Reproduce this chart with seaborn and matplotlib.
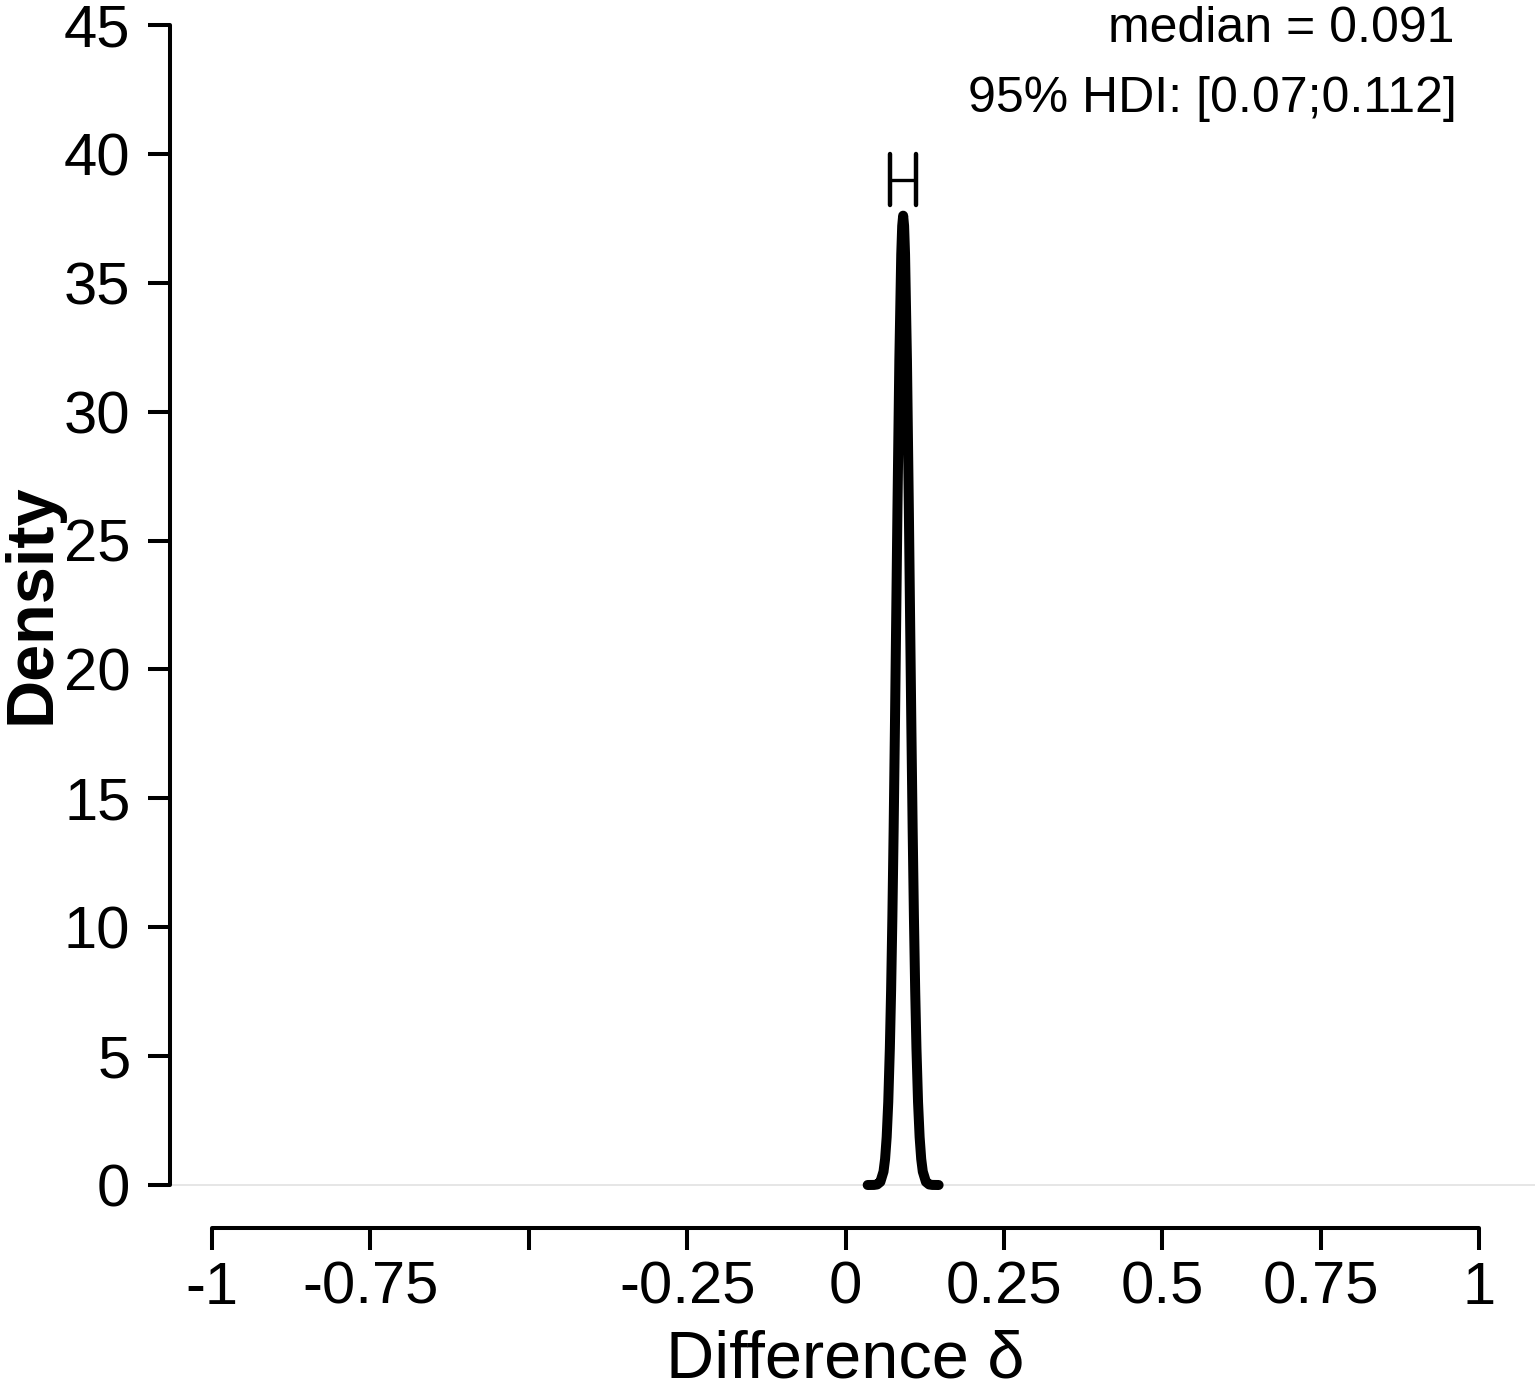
import numpy as np
import pandas as pd
import matplotlib
matplotlib.use("Agg")
import matplotlib.pyplot as plt
import seaborn as sns

# posterior density of the difference
delta_x = [0.035, 0.045, 0.050, 0.055, 0.060, 0.0625, 0.065, 0.0675, 0.070, 0.072,
           0.074, 0.076, 0.078, 0.080, 0.082, 0.085, 0.088, 0.0895, 0.091, 0.0925,
           0.094, 0.097, 0.100, 0.102, 0.104, 0.106, 0.108, 0.110, 0.112, 0.1145,
           0.117, 0.1195, 0.122, 0.127, 0.132, 0.137, 0.147]
density_y = [0.0, 0.003, 0.021, 0.12, 0.52, 1.01, 1.86, 3.22, 5.30, 7.55,
             10.4, 13.8, 17.7, 21.9, 26.2, 32.0, 36.1, 37.2, 37.6, 37.2,
             36.1, 32.0, 26.2, 21.9, 17.7, 13.8, 10.4, 7.55, 5.30, 3.22,
             1.86, 1.01, 0.52, 0.12, 0.021, 0.003, 0.0]

median_val = 0.091
hdi_low, hdi_high = 0.07, 0.112
hdi_bar_y = 39

x_ticks = [-1, -0.75, -0.5, -0.25, 0, 0.25, 0.5, 0.75, 1]
x_tick_labels = ["-1", "-0.75", "", "-0.25", "0", "0.25", "0.5", "0.75", "1"]
y_ticks = [0, 5, 10, 15, 20, 25, 30, 35, 40, 45]


def main():
    sns.set_theme(style="white")
    plt.rcParams["font.family"] = ["Liberation Sans", "DejaVu Sans"]
    plt.rcParams["text.color"] = "black"
    plt.rcParams["xtick.color"] = "black"
    plt.rcParams["ytick.color"] = "black"
    plt.rcParams["xtick.labelcolor"] = "black"
    plt.rcParams["ytick.labelcolor"] = "black"

    W, H = 1535, 1389
    fig = plt.figure(figsize=(W / 100, H / 100), dpi=100)
    # axes placed in pixels: left spine at x=170, x axis line at y=1228
    ax = fig.add_axes([170 / W, (H - 1228) / H, (W - 170) / W, 1228 / H])

    px_per_x = 633.5
    x0_px = 845.5
    px_per_y = 25.78
    ax.set_xlim((170 - x0_px) / px_per_x, (W - x0_px) / px_per_x)
    ax.set_ylim(-(1228 - 1185) / px_per_y, 1185 / px_per_y)

    df = pd.DataFrame({"delta": delta_x, "density": density_y})

    ax.axhline(0, color="#e2e2e2", lw=1.2, zorder=1)
    sns.lineplot(data=df, x="delta", y="density", ax=ax, color="black",
                 lw=7.2, estimator=None, sort=True, zorder=3,
                 solid_capstyle="round", solid_joinstyle="round")

    # HDI bracket
    ax.plot([hdi_low, hdi_high], [hdi_bar_y, hdi_bar_y], color="black", lw=2.4,
            solid_capstyle="butt")
    for xv in (hdi_low, hdi_high):
        ax.plot([xv, xv], [hdi_bar_y - 1, hdi_bar_y + 1], color="black", lw=3.2,
                solid_capstyle="round")

    ax.text((1455 - x0_px) / px_per_x, (1185 - 42) / px_per_y,
            f"median = {median_val:.3f}", ha="right", va="baseline", fontsize=36)
    ax.text((1457 - x0_px) / px_per_x, (1185 - 112) / px_per_y,
            f"95% HDI: [{hdi_low:g};{hdi_high:g}]", ha="right", va="baseline",
            fontsize=36)

    for side in ("top", "right"):
        ax.spines[side].set_visible(False)
    ax.spines["left"].set_bounds(0, 45)
    ax.spines["bottom"].set_bounds(-1, 1)
    for side in ("left", "bottom"):
        ax.spines[side].set_linewidth(2.9)
        ax.spines[side].set_color("black")
        ax.spines[side].set_capstyle("round")

    ax.set_xticks(x_ticks)
    ax.set_xticklabels(x_tick_labels)
    ax.set_yticks(y_ticks)
    ax.tick_params(axis="both", which="major", direction="out", length=15.5,
                   width=2.9, color="black", labelcolor="black", labelsize=43,
                   left=True, bottom=True)
    ax.tick_params(axis="y", pad=13)
    ax.tick_params(axis="x", pad=8)
    ax.set_xlabel("")
    ax.set_ylabel("")
    ax.grid(False)

    fig.text(845 / W, (H - 1377) / H, "Difference δ", ha="center", va="baseline",
             fontsize=48, color="black")
    fig.text(33 / W, (H - 604) / H, "Density", ha="center", va="center",
             rotation=90, fontsize=48, fontweight="bold", color="black")

    fig.savefig("out.png", dpi=100, facecolor="white")
    plt.close(fig)


if __name__ == "__main__":
    main()
